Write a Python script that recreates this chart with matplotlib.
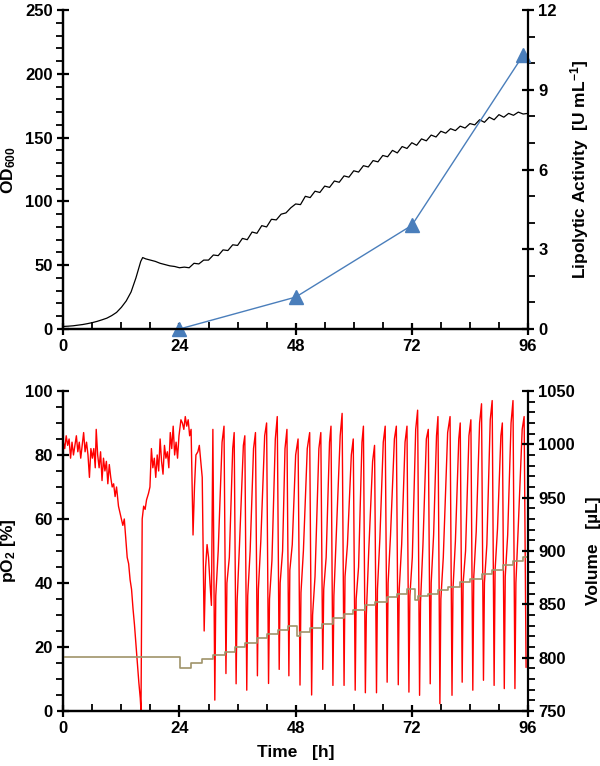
import matplotlib
matplotlib.use("Agg")
import matplotlib.pyplot as plt
from matplotlib.ticker import MultipleLocator

plt.rcParams['font.family'] = ['Liberation Sans', 'DejaVu Sans']
plt.rcParams['font.weight'] = 'bold'
plt.rcParams['mathtext.fontset'] = 'custom'
plt.rcParams['mathtext.rm'] = 'Liberation Sans:bold'
plt.rcParams['mathtext.bf'] = 'Liberation Sans:bold'
plt.rcParams['mathtext.default'] = 'rm'

# top panel: OD600 (left) and lipolytic activity (right)
od_time = [0, 1, 2, 3, 4, 5, 6, 7, 8, 9, 10, 11, 12, 13, 14, 15, 16, 16.4,
           17, 18, 19, 20, 21, 22, 23, 24, 25, 26, 27, 28, 29, 30, 31, 32,
           33, 34, 35, 36, 37, 38, 39, 40, 41, 42, 43, 44, 45, 46, 47, 48,
           49, 50, 51, 52, 53, 54, 55, 56, 57, 58, 59, 60, 61, 62, 63, 64,
           65, 66, 67, 68, 69, 70, 71, 72, 73, 74, 75, 76, 77, 78, 79, 80,
           81, 82, 83, 84, 85, 86, 87, 88, 89, 90, 91, 92, 93, 94, 95, 96]
od_value = [2.0, 2.2, 2.5, 3.0, 3.5, 4.2, 5.0, 6.0, 7.2, 8.5, 10.5, 13, 17, 22,
            29, 40, 53, 56, 55, 54, 53, 51.5, 50.5, 49.5, 49, 48, 48.5, 48,
            51.5, 51, 54, 54, 58, 57.5, 62, 61.5, 66, 65.5, 71, 70, 76, 75,
            81, 80, 86, 85.5, 90, 91, 95, 98, 97.5, 104, 103, 108, 107, 112,
            111, 116, 115, 120, 119, 124, 123, 128, 127, 132, 131, 136, 135,
            140, 138, 143, 141.5, 146, 144, 149, 147.5, 152, 150.5, 155, 153.5,
            157, 155.5, 159, 157.5, 161, 160, 164, 162, 166, 164, 168, 166,
            169, 167.5, 170, 168.5, 169]

lipase_time = [24, 48, 72, 95]
lipase_value = [0, 1.2, 3.9, 10.3]

# bottom panel: pO2 (left) and volume (right)
po2_time = [0.0, 0.3, 0.6, 0.9, 1.2, 1.5, 1.8, 2.1, 2.4, 2.7, 3.0, 3.3, 3.6,
            3.9, 4.2, 4.5, 4.8, 5.1, 5.4, 5.7, 6.0, 6.3, 6.6, 6.8, 7.1, 7.4,
            7.7, 8.0, 8.3, 8.6, 8.9, 9.2, 9.5, 9.8, 10.1, 10.4, 10.7, 11.0,
            11.4, 11.7, 12.0, 12.3, 12.6, 12.9, 13.2, 13.5, 13.8, 14.1, 14.4,
            14.7, 15.0, 15.3, 15.6, 15.9, 16.05, 16.3, 16.6, 16.9, 17.2, 17.6,
            17.9, 18.2, 18.5, 18.8, 19.1, 19.4, 19.7, 20.0, 20.3, 20.6, 20.9,
            21.2, 21.5, 21.8, 22.1, 22.4, 22.7, 23.0, 23.3, 23.6, 23.9, 24.3,
            24.6, 24.9, 25.2, 25.5, 25.8, 26.1, 26.4, 26.8, 27.1, 27.4, 27.8,
            28.1, 28.4, 28.7, 29.1, 29.4, 29.7, 30.0, 30.3, 30.6, 30.9,
            31.3, 31.5, 32.0, 32.8, 33.2,
            33.6, 33.8, 34.3, 35.0, 35.3,
            35.7, 35.9, 36.4, 37.2, 37.5,
            37.9, 38.1, 38.6, 39.3, 39.7,
            40.1, 40.3, 40.8, 41.6, 42.0,
            42.4, 42.6, 43.1, 43.8, 44.2,
            44.6, 44.8, 45.3, 45.8, 46.2,
            46.6, 46.8, 47.3, 48.0, 48.5,
            48.9, 49.1, 49.6, 50.4, 50.9,
            51.3, 51.5, 52.0, 52.8, 53.2,
            53.6, 53.8, 54.3, 55.0, 55.3,
            55.7, 55.9, 56.4, 57.2, 57.6,
            58.0, 58.2, 58.7, 59.5, 59.9,
            60.3, 60.5, 61.0, 61.7, 62.0,
            62.4, 62.6, 63.1, 63.9, 64.3,
            64.7, 64.9, 65.4, 66.1, 66.5,
            66.9, 67.1, 67.6, 68.4, 68.8,
            69.2, 69.4, 69.9, 70.6, 71.0,
            71.4, 71.6, 72.1, 72.8, 73.2,
            73.6, 73.8, 74.3, 75.0, 75.4,
            75.8, 76.0, 76.5, 77.1, 77.4,
            77.8, 78.0, 78.5, 79.4, 79.9,
            80.3, 80.5, 81.0, 81.7, 82.0,
            82.4, 82.6, 83.1, 83.8, 84.2,
            84.6, 84.8, 85.3, 86.0, 86.4,
            86.8, 87.0, 87.5, 88.2, 88.6,
            89.0, 89.2, 89.7, 90.4, 90.7,
            91.1, 91.3, 91.8, 92.5, 92.9,
            93.3, 93.5, 94.0, 94.8, 95.2,
            95.6]
po2_value = [84, 82, 86, 83, 85, 79, 84, 80, 83, 86, 81, 84, 79, 83, 87, 81,
             84, 80, 73, 82, 79, 82, 76, 88, 80, 76, 81, 72, 79, 75, 78, 71,
             77, 73, 70, 71, 67, 70, 64, 62, 60, 58, 60, 54, 48, 46, 41, 38,
             32, 27, 21, 15, 9, 4, 0, 60, 64, 63, 66, 68, 70, 82, 76, 79, 73,
             80, 75, 85, 78, 74, 83, 79, 81, 76, 87, 82, 89, 80, 84, 79, 86,
             91, 90, 88, 92, 89, 91, 86, 88, 55, 70, 80, 81, 83, 78, 73, 25,
             45, 52, 48, 40, 33, 88,
             3.4, 36, 50, 84, 89,
             11.7, 40, 48, 82, 87,
             8.5, 34, 52, 83, 86,
             6.5, 36, 50, 82, 87,
             11.0, 38, 53, 86, 90,
             8.6, 35, 47, 85, 92,
             13.0, 40, 50, 82, 88,
             11.0, 44, 52, 80, 85,
             8.1, 37, 50, 82, 87,
             5.0, 30, 42, 82, 87,
             13.0, 38, 48, 84, 89,
             8.0, 36, 55, 86, 93,
             8.0, 42, 52, 80, 85,
             6.5, 35, 45, 84, 89,
             5.7, 30, 50, 78, 83,
             5.7, 38, 54, 84, 89,
             9.0, 40, 55, 85, 89,
             8.2, 38, 52, 84, 89,
             5.9, 36, 48, 88, 94,
             4.9, 34, 52, 85, 88,
             8.5, 40, 55, 86, 92,
             2.3, 35, 48, 87, 92,
             4.9, 38, 53, 85, 90,
             9.0, 40, 50, 86, 91,
             6.5, 42, 56, 90, 96,
             9.6, 40, 52, 91, 97,
             8.0, 44, 57, 86, 90,
             7.0, 42, 55, 90, 97,
             7.0, 40, 58, 88, 92,
             13.7]

volume_time = [0, 24.1, 26.4, 28.7, 30.9, 33.4, 35.5, 37.5, 40.0, 42.0, 44.4,
               46.5, 48.2, 48.9, 51.0, 53.4, 55.8, 57.9, 59.9, 62.3, 64.4,
               66.8, 68.9, 71.0, 72.7, 73.3, 75.4, 77.5, 79.5, 82.0, 84.0,
               86.4, 88.5, 90.9, 93.0, 95.0, 96]
volume_value = [801, 790, 794.7, 798.7, 802.5, 805.6, 810, 814, 818, 822, 826,
                830, 820, 824, 827.5, 832, 837, 840.6, 845, 849, 852.5, 856.5,
                860, 864.4, 854, 858, 860, 863.4, 866.6, 870.6, 874, 878.4,
                882, 887, 891, 894.7, 896]

time_ticks = [0, 24, 48, 72, 96]

fig = plt.figure(figsize=(6, 7.66), dpi=100)
ax1 = fig.add_axes([0.1055, 0.5705, 0.7745, 0.4164])
ax1r = ax1.twinx()
ax2 = fig.add_axes([0.1055, 0.0718, 0.7745, 0.4178])
ax2r = ax2.twinx()


def style_axes(ax, axr, ymajor, yminor, rmajor, rminor):
    ax.set_xlim(0, 96)
    ax.set_xticks(time_ticks)
    ax.xaxis.set_minor_locator(MultipleLocator(6))
    ax.yaxis.set_major_locator(MultipleLocator(ymajor))
    ax.yaxis.set_minor_locator(MultipleLocator(yminor))
    axr.yaxis.set_major_locator(MultipleLocator(rmajor))
    axr.yaxis.set_minor_locator(MultipleLocator(rminor))
    for a in (ax, axr):
        a.spines['top'].set_visible(False)
        for s in ('left', 'right', 'bottom'):
            a.spines[s].set_linewidth(1.6)
    ax.spines['right'].set_visible(False)
    ax.tick_params(which='major', direction='inout', length=9, width=1.6,
                   labelsize=12, pad=3)
    ax.tick_params(axis='x', which='minor', direction='in', length=5, width=1.3)
    ax.tick_params(axis='y', which='minor', direction='out', length=5, width=1.3)
    axr.tick_params(which='major', direction='inout', length=9, width=1.6,
                    labelsize=12, pad=3)
    axr.tick_params(which='minor', direction='out', length=5, width=1.3)


# top panel
ax1.plot(od_time, od_value, color='black', lw=0.9)
ax1r.plot(lipase_time, lipase_value, color='#4a7ebb', lw=1.0, marker='^',
          markersize=10, clip_on=False)
ax1.set_ylim(0, 250)
ax1r.set_ylim(0, 12)
style_axes(ax1, ax1r, 50, 10, 3, 1)
ax1.set_ylabel('OD$_{600}$', fontsize=12.5, fontweight='bold', labelpad=5)
ax1r.set_ylabel('Lipolytic Activity  [U mL$^{-1}$]', fontsize=12.5,
                fontweight='bold', labelpad=8)

# bottom panel
ax2.plot(po2_time, po2_value, color='#ff0000', lw=1.0)
ax2r.step(volume_time, volume_value, where='post', color='#a0946a', lw=1.2)
ax2.set_ylim(0, 100)
ax2r.set_ylim(750, 1050)
style_axes(ax2, ax2r, 20, 5, 50, 10)
ax2.set_ylabel('pO$_2$ [%]', fontsize=12.5, fontweight='bold', labelpad=5)
ax2r.set_ylabel('Volume   [\u00b5L]', fontsize=12.5, fontweight='bold',
                labelpad=8)
ax2.set_xlabel('Time   [h]', fontsize=12.5, fontweight='bold', labelpad=6)

fig.savefig('out.png', dpi=100)
